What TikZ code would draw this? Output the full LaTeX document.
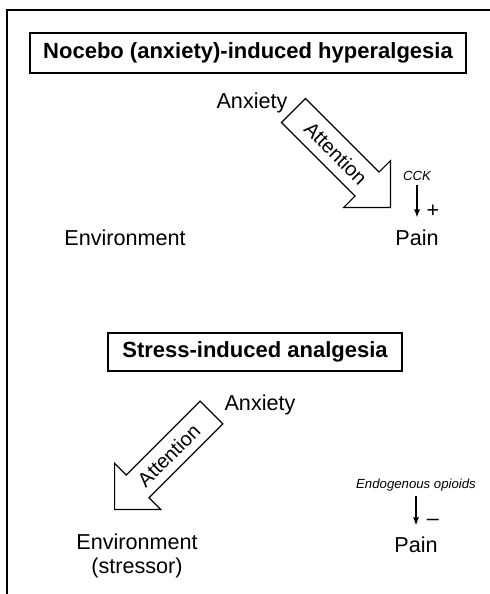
\documentclass[tikz,border=0pt]{standalone}
\usepackage{fontspec}
\setmainfont{Liberation Sans}
\usetikzlibrary{shapes.arrows}
\usetikzlibrary{arrows.meta}
\tikzset{
	title/.style={draw, line width=0.6pt, font=\fontsize{11}{13}\selectfont\bfseries, inner sep=0pt},
	word/.style={font=\fontsize{10.8}{12}\selectfont, anchor=base, inner sep=1pt},
	agent/.style={font=\fontsize{6.6}{8}\selectfont\itshape, anchor=base, inner sep=1pt},
	focus/.style={draw, line width=0.6pt, single arrow, single arrow tip angle=90,
			single arrow head extend=8pt, font=\fontsize{10}{12}\selectfont,
			text height=7.2pt, text depth=0pt, inner xsep=2pt, inner ysep=4.6pt, minimum height=68.5pt},
	pointer/.style={-{Latex[length=4pt,width=3pt]}, line width=0.6pt}
}

\begin{document}
\begin{tikzpicture}[x=0.5pt,y=-0.5pt]
		\useasboundingbox (0,0) rectangle (490,594);
		\draw[line width=0.7pt] (7,594) -- (7,10) -- (490,10);
		% hyperalgesia
		\node[title, minimum width=218pt, minimum height=20pt] (nocebo) at (248,53) {Nocebo (anxiety)-induced hyperalgesia};
		\node[word] (anx1) at (252,108) {Anxiety};
		\node[word] (env1) at (125,245) {Environment};
		\node[word] (pain1) at (417,245) {Pain};
		\node[agent] (cck) at (417,180) {CCK};
		\node[focus, rotate=-45, anchor=tip] (att1) at (391,208) {Attention};
		\draw[pointer, shorten <=1pt, shorten >=4.75pt] (cck) -- (pain1);
		\node[word, anchor=center] (plus) at (433,211) {+};
		% analgesia
		\node[title, minimum width=147pt, minimum height=19pt] (stress) at (255,352) {Stress-induced analgesia};
		\node[word] (anx2) at (260,410) {Anxiety};
		\node[word, align=center] (env2) at (137,573) {Environment\\(stressor)};
		\node[word] (pain2) at (416,552) {Pain};
		\node[agent] (opioid) at (416,488) {Endogenous opioids};
		\node[focus, rotate=45, shape border rotate=180, anchor=tip,
			single arrow head extend=8.2pt, inner ysep=4.15pt] (att2) at (114,510) {Attention};
		\draw[pointer, shorten <=1.5pt, shorten >=4.25pt] (opioid) -- (pain2);
		\node[word, anchor=center] (minus) at (433,522) {–};
	\end{tikzpicture}
\end{document}
